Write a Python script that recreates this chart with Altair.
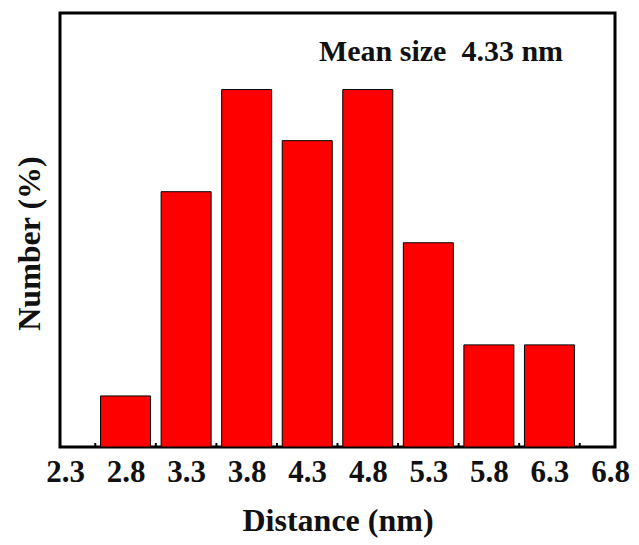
import altair as alt
import pandas as pd

# Data
centers = [2.8, 3.3, 3.8, 4.3, 4.8, 5.3, 5.8, 6.3]
counts = [1, 5, 7, 6, 7, 4, 2, 2]
tick_labels = [2.3, 2.8, 3.3, 3.8, 4.3, 4.8, 5.3, 5.8, 6.3, 6.8]
minor_ticks = [2.55, 3.05, 3.55, 4.05, 4.55, 5.05, 5.55, 6.05, 6.55]

bars_df = pd.DataFrame({"d": centers, "n": counts})
ticks_df = pd.DataFrame({"t": minor_ticks})

W, H = 555, 434
FONT = "Liberation Serif"

xscale = alt.Scale(domain=[2.3, 6.8], nice=False, zero=False)
yscale = alt.Scale(domain=[0, 8.5], nice=False)

bars = alt.Chart(bars_df).mark_bar(
    size=50, color="#FF0000", stroke="black", strokeWidth=1
).encode(
    x=alt.X("d:Q", scale=xscale, axis=alt.Axis(
        values=tick_labels, format=".1f", title="Distance (nm)",
        ticks=False, domain=False, grid=False,
        labelFont=FONT, labelFontSize=31, labelFontWeight="bold", labelColor="#111",
        labelPadding=10, labelFlush=False,
        titleFont=FONT, titleFontSize=32, titleFontWeight="bold", titleColor="#111",
        titlePadding=18)),
    y=alt.Y("n:Q", scale=yscale, axis=alt.Axis(
        labels=False, ticks=False, domain=False, grid=False,
        title="Number (%)", titleFont=FONT, titleFontSize=32,
        titleFontWeight="bold", titleColor="#111", titlePadding=14,
        titleY=230)),
)

minor = alt.Chart(ticks_df).mark_rule(color="black", strokeWidth=2).encode(
    x=alt.X("t:Q", scale=xscale),
    y=alt.value(H),
    y2=alt.value(H - 4),
)

note = alt.Chart(pd.DataFrame({"label": ["Mean size\u00a0\u00a04.33 nm"]})).mark_text(
    font=FONT, fontSize=30, fontWeight="bold", color="#111",
    align="center", baseline="alphabetic"
).encode(
    x=alt.value(381), y=alt.value(48), text="label:N"
)

chart = alt.layer(bars, minor, note).properties(
    width=W, height=H,
    background="white",
    autosize=alt.AutoSizeParams(type="none"),
    padding={"left": 60, "top": 13, "right": 24, "bottom": 98},
).configure_view(stroke="black", strokeWidth=3)

chart.save("out.html", embed_options={"renderer": "svg", "actions": False})
